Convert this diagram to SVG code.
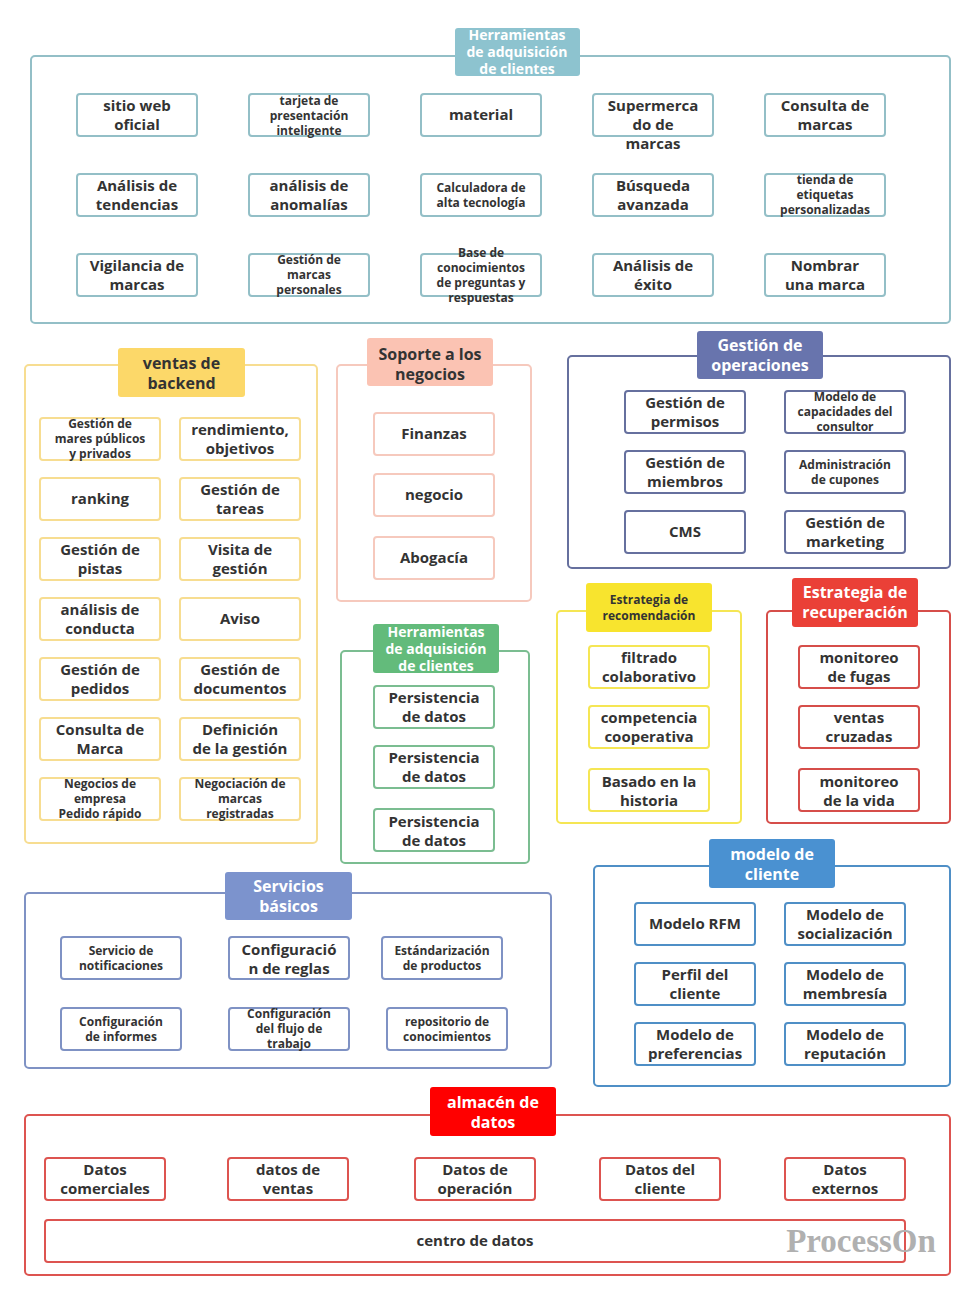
<svg xmlns="http://www.w3.org/2000/svg" width="976" height="1300" viewBox="0 0 976 1300">
<style>
text{font-family:"Open Sans","Noto Sans",sans-serif;font-weight:700;text-anchor:middle;fill:#333}
.l{font-size:15px}
.s{font-size:12px}
.t{font-size:16px;font-weight:700}
.tw{fill:#fff}
rect{stroke-width:2}
.teal rect.b{fill:#fff;stroke:#93bfc7}
.yel rect.b{fill:#fff;stroke:#f7dd91}
.sal rect.b{fill:#fff;stroke:#f6c9bd}
.grn rect.b{fill:#fff;stroke:#7bbd91}
.slt rect.b{fill:#fff;stroke:#66709e}
.byl rect.b{fill:#fff;stroke:#f5e654}
.red rect.b{fill:#fff;stroke:#d64e4a}
.per rect.b{fill:#fff;stroke:#7f92c4}
.blu rect.b{fill:#fff;stroke:#4f8fc6}
.alm rect.b{fill:#fff;stroke:#dd5450}
.frame{fill:none}
</style>
<rect width="976" height="1300" fill="#fff" stroke="none"/>

<!-- Herramientas de adquisición de clientes (top) -->
<g class="teal">
<g id="grp-herramientas-top">
<rect class="frame" x="31" y="56" width="919" height="267" rx="4" stroke="#93bfc7"/>
<rect x="455" y="28" width="125" height="48" rx="3" fill="#8dc3cf" stroke="none"/>
<text class="tw" style="font-size:14px"><tspan x="517" y="40">Herramientas</tspan><tspan x="517" y="57">de adquisición</tspan><tspan x="517" y="74">de clientes</tspan></text>
</g>
<g id="n-sitio"><rect class="b" x="77" y="94" width="120" height="42" rx="3"/><text class="l"><tspan x="137" y="111">sitio web</tspan><tspan x="137" y="130">oficial</tspan></text></g>
<g id="n-tarjeta"><rect class="b" x="249" y="94" width="120" height="42" rx="3"/><text class="s"><tspan x="309" y="105">tarjeta de</tspan><tspan x="309" y="120">presentación</tspan><tspan x="309" y="135">inteligente</tspan></text></g>
<g id="n-material"><rect class="b" x="421" y="94" width="120" height="42" rx="3"/><text class="l" x="481" y="120">material</text></g>
<g id="n-supermercado"><rect class="b" x="593" y="94" width="120" height="42" rx="3"/><text class="l"><tspan x="653" y="111">Supermerca</tspan><tspan x="653" y="130">do de</tspan><tspan x="653" y="149">marcas</tspan></text></g>
<g id="n-consulta-marcas"><rect class="b" x="765" y="94" width="120" height="42" rx="3"/><text class="l"><tspan x="825" y="111">Consulta de</tspan><tspan x="825" y="130">marcas</tspan></text></g>

<g id="n-tendencias"><rect class="b" x="77" y="174" width="120" height="42" rx="3"/><text class="l"><tspan x="137" y="191">Análisis de</tspan><tspan x="137" y="210">tendencias</tspan></text></g>
<g id="n-anomalias"><rect class="b" x="249" y="174" width="120" height="42" rx="3"/><text class="l"><tspan x="309" y="191">análisis de</tspan><tspan x="309" y="210">anomalías</tspan></text></g>
<g id="n-calculadora"><rect class="b" x="421" y="174" width="120" height="42" rx="3"/><text class="s"><tspan x="481" y="192">Calculadora de</tspan><tspan x="481" y="207">alta tecnología</tspan></text></g>
<g id="n-busqueda"><rect class="b" x="593" y="174" width="120" height="42" rx="3"/><text class="l"><tspan x="653" y="191">Búsqueda</tspan><tspan x="653" y="210">avanzada</tspan></text></g>
<g id="n-tienda"><rect class="b" x="765" y="174" width="120" height="42" rx="3"/><text class="s"><tspan x="825" y="184">tienda de</tspan><tspan x="825" y="199">etiquetas</tspan><tspan x="825" y="214">personalizadas</tspan></text></g>

<g id="n-vigilancia"><rect class="b" x="77" y="254" width="120" height="42" rx="3"/><text class="l"><tspan x="137" y="271">Vigilancia de</tspan><tspan x="137" y="290">marcas</tspan></text></g>
<g id="n-marcas-personales"><rect class="b" x="249" y="254" width="120" height="42" rx="3"/><text class="s"><tspan x="309" y="264">Gestión de</tspan><tspan x="309" y="279">marcas</tspan><tspan x="309" y="294">personales</tspan></text></g>
<g id="n-base-conocimientos"><rect class="b" x="421" y="254" width="120" height="42" rx="3"/><text class="s"><tspan x="481" y="257">Base de</tspan><tspan x="481" y="272">conocimientos</tspan><tspan x="481" y="287">de preguntas y</tspan><tspan x="481" y="302">respuestas</tspan></text></g>
<g id="n-exito"><rect class="b" x="593" y="254" width="120" height="42" rx="3"/><text class="l"><tspan x="653" y="271">Análisis de</tspan><tspan x="653" y="290">éxito</tspan></text></g>
<g id="n-nombrar"><rect class="b" x="765" y="254" width="120" height="42" rx="3"/><text class="l"><tspan x="825" y="271">Nombrar</tspan><tspan x="825" y="290">una marca</tspan></text></g>
</g>

<!-- ventas de backend -->
<g class="yel">
<g id="grp-ventas-backend">
<rect class="frame" x="25" y="365" width="292" height="478" rx="4" stroke="#f7dd91"/>
<rect x="118" y="348" width="127" height="49" rx="3" fill="#fcd869" stroke="none"/>
<text class="t"><tspan x="181.5" y="369">ventas de</tspan><tspan x="181.5" y="389">backend</tspan></text>
</g>
<g id="n-mares"><rect class="b" x="40" y="418" width="120" height="42" rx="3"/><text class="s"><tspan x="100" y="428">Gestión de</tspan><tspan x="100" y="443">mares públicos</tspan><tspan x="100" y="458">y privados</tspan></text></g>
<g id="n-rendimiento"><rect class="b" x="180" y="418" width="120" height="42" rx="3"/><text class="l"><tspan x="240" y="435">rendimiento,</tspan><tspan x="240" y="454">objetivos</tspan></text></g>
<g id="n-ranking"><rect class="b" x="40" y="478" width="120" height="42" rx="3"/><text class="l" x="100" y="504">ranking</text></g>
<g id="n-tareas"><rect class="b" x="180" y="478" width="120" height="42" rx="3"/><text class="l"><tspan x="240" y="495">Gestión de</tspan><tspan x="240" y="514">tareas</tspan></text></g>
<g id="n-pistas"><rect class="b" x="40" y="538" width="120" height="42" rx="3"/><text class="l"><tspan x="100" y="555">Gestión de</tspan><tspan x="100" y="574">pistas</tspan></text></g>
<g id="n-visita"><rect class="b" x="180" y="538" width="120" height="42" rx="3"/><text class="l"><tspan x="240" y="555">Visita de</tspan><tspan x="240" y="574">gestión</tspan></text></g>
<g id="n-conducta"><rect class="b" x="40" y="598" width="120" height="42" rx="3"/><text class="l"><tspan x="100" y="615">análisis de</tspan><tspan x="100" y="634">conducta</tspan></text></g>
<g id="n-aviso"><rect class="b" x="180" y="598" width="120" height="42" rx="3"/><text class="l" x="240" y="624">Aviso</text></g>
<g id="n-pedidos"><rect class="b" x="40" y="658" width="120" height="42" rx="3"/><text class="l"><tspan x="100" y="675">Gestión de</tspan><tspan x="100" y="694">pedidos</tspan></text></g>
<g id="n-documentos"><rect class="b" x="180" y="658" width="120" height="42" rx="3"/><text class="l"><tspan x="240" y="675">Gestión de</tspan><tspan x="240" y="694">documentos</tspan></text></g>
<g id="n-consulta-marca"><rect class="b" x="40" y="718" width="120" height="42" rx="3"/><text class="l"><tspan x="100" y="735">Consulta de</tspan><tspan x="100" y="754">Marca</tspan></text></g>
<g id="n-definicion"><rect class="b" x="180" y="718" width="120" height="42" rx="3"/><text class="l"><tspan x="240" y="735">Definición</tspan><tspan x="240" y="754">de la gestión</tspan></text></g>
<g id="n-negocios-empresa"><rect class="b" x="40" y="778" width="120" height="42" rx="3"/><text class="s"><tspan x="100" y="788">Negocios de</tspan><tspan x="100" y="803">empresa</tspan><tspan x="100" y="818">Pedido rápido</tspan></text></g>
<g id="n-negociacion"><rect class="b" x="180" y="778" width="120" height="42" rx="3"/><text class="s"><tspan x="240" y="788">Negociación de</tspan><tspan x="240" y="803">marcas</tspan><tspan x="240" y="818">registradas</tspan></text></g>
</g>

<!-- Soporte a los negocios -->
<g class="sal">
<g id="grp-soporte">
<rect class="frame" x="337" y="365" width="194" height="236" rx="4" stroke="#f6c9bd"/>
<rect x="367" y="338" width="126" height="48" rx="3" fill="#fbc3b3" stroke="none"/>
<text class="t"><tspan x="430" y="360">Soporte a los</tspan><tspan x="430" y="380">negocios</tspan></text>
</g>
<g id="n-finanzas"><rect class="b" x="374" y="413" width="120" height="42" rx="3"/><text class="l" x="434" y="439">Finanzas</text></g>
<g id="n-negocio"><rect class="b" x="374" y="474" width="120" height="42" rx="3"/><text class="l" x="434" y="500">negocio</text></g>
<g id="n-abogacia"><rect class="b" x="374" y="537" width="120" height="42" rx="3"/><text class="l" x="434" y="563">Abogacía</text></g>
</g>

<!-- Herramientas de adquisición de clientes (green) -->
<g class="grn">
<g id="grp-herramientas-green">
<rect class="frame" x="341" y="651" width="188" height="212" rx="4" stroke="#7bbd91"/>
<rect x="373" y="624" width="126" height="49" rx="3" fill="#63bb7b" stroke="none"/>
<text class="tw" style="font-size:14px"><tspan x="436" y="637">Herramientas</tspan><tspan x="436" y="654">de adquisición</tspan><tspan x="436" y="671">de clientes</tspan></text>
</g>
<g id="n-persistencia-1"><rect class="b" x="374" y="686" width="120" height="42" rx="3"/><text class="l"><tspan x="434" y="703">Persistencia</tspan><tspan x="434" y="722">de datos</tspan></text></g>
<g id="n-persistencia-2"><rect class="b" x="374" y="746" width="120" height="42" rx="3"/><text class="l"><tspan x="434" y="763">Persistencia</tspan><tspan x="434" y="782">de datos</tspan></text></g>
<g id="n-persistencia-3"><rect class="b" x="374" y="809" width="120" height="42" rx="3"/><text class="l"><tspan x="434" y="827">Persistencia</tspan><tspan x="434" y="846">de datos</tspan></text></g>
</g>

<!-- Gestión de operaciones -->
<g class="slt">
<g id="grp-operaciones">
<rect class="frame" x="568" y="356" width="382" height="212" rx="4" stroke="#66709e"/>
<rect x="697" y="331" width="126" height="48" rx="3" fill="#6874ad" stroke="none"/>
<text class="t tw"><tspan x="760" y="351">Gestión de</tspan><tspan x="760" y="371">operaciones</tspan></text>
</g>
<g id="n-permisos"><rect class="b" x="625" y="391" width="120" height="42" rx="3"/><text class="l"><tspan x="685" y="408">Gestión de</tspan><tspan x="685" y="427">permisos</tspan></text></g>
<g id="n-capacidades"><rect class="b" x="785" y="391" width="120" height="42" rx="3"/><text class="s"><tspan x="845" y="401">Modelo de</tspan><tspan x="845" y="416">capacidades del</tspan><tspan x="845" y="431">consultor</tspan></text></g>
<g id="n-miembros"><rect class="b" x="625" y="451" width="120" height="42" rx="3"/><text class="l"><tspan x="685" y="468">Gestión de</tspan><tspan x="685" y="487">miembros</tspan></text></g>
<g id="n-cupones"><rect class="b" x="785" y="451" width="120" height="42" rx="3"/><text class="s"><tspan x="845" y="469">Administración</tspan><tspan x="845" y="484">de cupones</tspan></text></g>
<g id="n-cms"><rect class="b" x="625" y="511" width="120" height="42" rx="3"/><text class="l" x="685" y="537">CMS</text></g>
<g id="n-marketing"><rect class="b" x="785" y="511" width="120" height="42" rx="3"/><text class="l"><tspan x="845" y="528">Gestión de</tspan><tspan x="845" y="547">marketing</tspan></text></g>
</g>

<!-- Estrategia de recomendación -->
<g class="byl">
<g id="grp-recomendacion">
<rect class="frame" x="557" y="611" width="184" height="212" rx="4" stroke="#f5e654"/>
<rect x="586" y="583" width="126" height="49" rx="3" fill="#f8e42e" stroke="none"/>
<text style="font-size:12px"><tspan x="649" y="604">Estrategia de</tspan><tspan x="649" y="620">recomendación</tspan></text>
</g>
<g id="n-filtrado"><rect class="b" x="589" y="646" width="120" height="42" rx="3"/><text class="l"><tspan x="649" y="663">filtrado</tspan><tspan x="649" y="682">colaborativo</tspan></text></g>
<g id="n-competencia"><rect class="b" x="589" y="706" width="120" height="42" rx="3"/><text class="l"><tspan x="649" y="723">competencia</tspan><tspan x="649" y="742">cooperativa</tspan></text></g>
<g id="n-historia"><rect class="b" x="589" y="769" width="120" height="42" rx="3"/><text class="l"><tspan x="649" y="787">Basado en la</tspan><tspan x="649" y="806">historia</tspan></text></g>
</g>

<!-- Estrategia de recuperación -->
<g class="red">
<g id="grp-recuperacion">
<rect class="frame" x="767" y="611" width="183" height="212" rx="4" stroke="#d64e4a"/>
<rect x="792" y="578" width="126" height="49" rx="3" fill="#ea4037" stroke="none"/>
<text class="t tw"><tspan x="855" y="598">Estrategia de</tspan><tspan x="855" y="618">recuperación</tspan></text>
</g>
<g id="n-fugas"><rect class="b" x="799" y="646" width="120" height="42" rx="3"/><text class="l"><tspan x="859" y="663">monitoreo</tspan><tspan x="859" y="682">de fugas</tspan></text></g>
<g id="n-cruzadas"><rect class="b" x="799" y="706" width="120" height="42" rx="3"/><text class="l"><tspan x="859" y="723">ventas</tspan><tspan x="859" y="742">cruzadas</tspan></text></g>
<g id="n-vida"><rect class="b" x="799" y="769" width="120" height="42" rx="3"/><text class="l"><tspan x="859" y="787">monitoreo</tspan><tspan x="859" y="806">de la vida</tspan></text></g>
</g>

<!-- Servicios básicos -->
<g class="per">
<g id="grp-servicios">
<rect class="frame" x="25" y="893" width="526" height="175" rx="4" stroke="#7f92c4"/>
<rect x="225" y="872" width="127" height="48" rx="3" fill="#7c93cd" stroke="none"/>
<text class="t tw"><tspan x="288.5" y="892">Servicios</tspan><tspan x="288.5" y="912">básicos</tspan></text>
</g>
<g id="n-notificaciones"><rect class="b" x="61" y="937" width="120" height="42" rx="3"/><text class="s"><tspan x="121" y="955">Servicio de</tspan><tspan x="121" y="970">notificaciones</tspan></text></g>
<g id="n-reglas"><rect class="b" x="229" y="937" width="120" height="42" rx="3"/><text class="l"><tspan x="289" y="955">Configuració</tspan><tspan x="289" y="974">n de reglas</tspan></text></g>
<g id="n-estandarizacion"><rect class="b" x="382" y="937" width="120" height="42" rx="3"/><text class="s"><tspan x="442" y="955">Estándarización</tspan><tspan x="442" y="970">de productos</tspan></text></g>
<g id="n-informes"><rect class="b" x="61" y="1008" width="120" height="42" rx="3"/><text class="s"><tspan x="121" y="1026">Configuración</tspan><tspan x="121" y="1041">de informes</tspan></text></g>
<g id="n-flujo"><rect class="b" x="229" y="1008" width="120" height="42" rx="3"/><text class="s"><tspan x="289" y="1018">Configuración</tspan><tspan x="289" y="1033">del flujo de</tspan><tspan x="289" y="1048">trabajo</tspan></text></g>
<g id="n-repositorio"><rect class="b" x="387" y="1008" width="120" height="42" rx="3"/><text class="s"><tspan x="447" y="1026">repositorio de</tspan><tspan x="447" y="1041">conocimientos</tspan></text></g>
</g>

<!-- modelo de cliente -->
<g class="blu">
<g id="grp-modelo-cliente">
<rect class="frame" x="594" y="866" width="356" height="220" rx="4" stroke="#4f8fc6"/>
<rect x="709" y="839" width="126" height="49" rx="3" fill="#4a91d1" stroke="none"/>
<text class="t tw"><tspan x="772" y="860">modelo de</tspan><tspan x="772" y="880">cliente</tspan></text>
</g>
<g id="n-rfm"><rect class="b" x="635" y="903" width="120" height="42" rx="3"/><text class="l" x="695" y="929">Modelo RFM</text></g>
<g id="n-socializacion"><rect class="b" x="785" y="903" width="120" height="42" rx="3"/><text class="l"><tspan x="845" y="920">Modelo de</tspan><tspan x="845" y="939">socialización</tspan></text></g>
<g id="n-perfil"><rect class="b" x="635" y="963" width="120" height="42" rx="3"/><text class="l"><tspan x="695" y="980">Perfil del</tspan><tspan x="695" y="999">cliente</tspan></text></g>
<g id="n-membresia"><rect class="b" x="785" y="963" width="120" height="42" rx="3"/><text class="l"><tspan x="845" y="980">Modelo de</tspan><tspan x="845" y="999">membresía</tspan></text></g>
<g id="n-preferencias"><rect class="b" x="635" y="1023" width="120" height="42" rx="3"/><text class="l"><tspan x="695" y="1040">Modelo de</tspan><tspan x="695" y="1059">preferencias</tspan></text></g>
<g id="n-reputacion"><rect class="b" x="785" y="1023" width="120" height="42" rx="3"/><text class="l"><tspan x="845" y="1040">Modelo de</tspan><tspan x="845" y="1059">reputación</tspan></text></g>
</g>

<!-- almacén de datos -->
<g class="alm">
<g id="grp-almacen">
<rect class="frame" x="25" y="1115" width="925" height="160" rx="4" stroke="#dd5450"/>
<rect x="430" y="1087" width="126" height="49" rx="3" fill="#ff0000" stroke="none"/>
<text class="t tw"><tspan x="493" y="1108">almacén de</tspan><tspan x="493" y="1128">datos</tspan></text>
</g>
<g id="n-comerciales"><rect class="b" x="45" y="1158" width="120" height="42" rx="3"/><text class="l"><tspan x="105" y="1175">Datos</tspan><tspan x="105" y="1194">comerciales</tspan></text></g>
<g id="n-ventas"><rect class="b" x="228" y="1158" width="120" height="42" rx="3"/><text class="l"><tspan x="288" y="1175">datos de</tspan><tspan x="288" y="1194">ventas</tspan></text></g>
<g id="n-operacion"><rect class="b" x="415" y="1158" width="120" height="42" rx="3"/><text class="l"><tspan x="475" y="1175">Datos de</tspan><tspan x="475" y="1194">operación</tspan></text></g>
<g id="n-datos-cliente"><rect class="b" x="600" y="1158" width="120" height="42" rx="3"/><text class="l"><tspan x="660" y="1175">Datos del</tspan><tspan x="660" y="1194">cliente</tspan></text></g>
<g id="n-externos"><rect class="b" x="785" y="1158" width="120" height="42" rx="3"/><text class="l"><tspan x="845" y="1175">Datos</tspan><tspan x="845" y="1194">externos</tspan></text></g>
<g id="n-centro"><rect class="b" x="45" y="1220" width="860" height="42" rx="3"/><text class="l" x="475" y="1246">centro de datos</text></g>
</g>

<g id="connectors"></g>

<text x="861" y="1252" style="font-family:'Liberation Serif',serif;font-size:33px;font-weight:700;fill:#b0b0b0">ProcessOn</text>
</svg>
